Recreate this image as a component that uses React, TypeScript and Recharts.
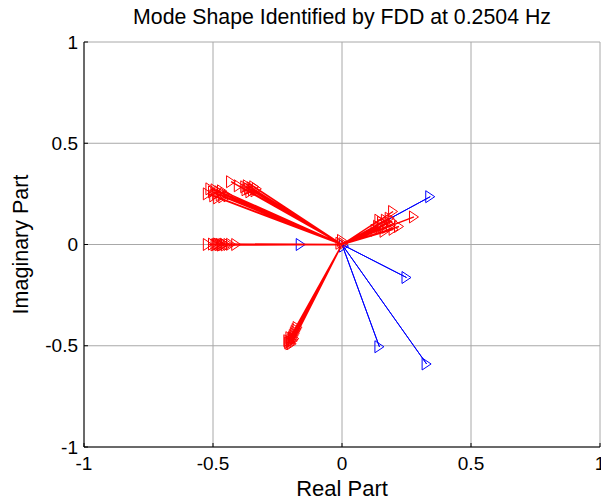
import React from 'react';
import { ScatterChart, Scatter, XAxis, YAxis, CartesianGrid } from 'recharts';

const axisTicks = [-1, -0.5, 0, 0.5, 1];

// Blue mode-shape components [real, imaginary]
const blueTips: [number, number][] = [
  [0.342, 0.236],
  [-0.16, 0.0],
  [0.25, -0.163],
  [0.145, -0.505],
  [0.328, -0.59],
  [0.008, -0.008],
];

// Red components near the real axis (left)
const redRealAxis: [number, number][] = [
  [-0.52, 0.0], [-0.5, 0.002], [-0.49, -0.002], [-0.485, 0.0], [-0.48, 0.003],
  [-0.475, -0.001], [-0.47, 0.001], [-0.465, -0.003], [-0.46, 0.0], [-0.455, 0.002],
  [-0.45, -0.002], [-0.44, 0.0], [-0.43, 0.001], [-0.41, 0.0],
];

// Red components in the upper-left group
const redUpperLeft: [number, number][] = [
  [-0.52, 0.25], [-0.51, 0.275], [-0.5, 0.26], [-0.495, 0.24], [-0.49, 0.27],
  [-0.485, 0.25], [-0.48, 0.23], [-0.475, 0.26], [-0.47, 0.245], [-0.465, 0.265],
  [-0.46, 0.235], [-0.455, 0.25], [-0.44, 0.24], [-0.43, 0.31], [-0.4, 0.29],
  [-0.375, 0.285], [-0.37, 0.27], [-0.365, 0.29], [-0.36, 0.275], [-0.355, 0.26],
  [-0.35, 0.28], [-0.345, 0.27], [-0.34, 0.285], [-0.335, 0.265], [-0.33, 0.275],
];

// Red components in the lower-left group
const redLowerLeft: [number, number][] = [
  [-0.2, -0.49], [-0.198, -0.48], [-0.195, -0.47], [-0.19, -0.46], [-0.187, -0.45],
  [-0.183, -0.44], [-0.18, -0.43], [-0.176, -0.42], [-0.172, -0.41], [-0.205, -0.485],
  [-0.195, -0.49], [-0.2, -0.46], [-0.19, -0.475], [-0.208, -0.475], [-0.185, -0.465],
];

// Red components in the upper-right group
const redUpperRight: [number, number][] = [
  [0.198, 0.163], [0.279, 0.136], [0.221, 0.089], [0.13, 0.07], [0.14, 0.09],
  [0.15, 0.08], [0.155, 0.11], [0.16, 0.095], [0.17, 0.12], [0.175, 0.085],
  [0.18, 0.105], [0.185, 0.13], [0.19, 0.095], [0.195, 0.115], [0.2, 0.075],
  [0.165, 0.065], [0.145, 0.12],
];

// Red components near the origin
const redNearOrigin: [number, number][] = [
  [0.0, 0.02], [-0.006, 0.006], [0.006, 0.004],
];

const redTips = [...redRealAxis, ...redUpperLeft, ...redLowerLeft, ...redUpperRight, ...redNearOrigin];

function toVectors(tips: [number, number][]) {
  const out: { x: number; y: number; tip: boolean }[] = [];
  tips.forEach(([x, y]) => {
    out.push({ x: 0, y: 0, tip: false });
    out.push({ x, y, tip: true });
  });
  return out;
}

const blueData = toVectors(blueTips);
const redData = toVectors(redTips);

const makeShape = (color: string) => (props: any) => {
  const { cx, cy, payload } = props;
  if (!payload || !payload.tip || cx == null || cy == null) return <g />;
  const d = `M${cx - 4.5},${cy - 6} L${cx + 4.5},${cy} L${cx - 4.5},${cy + 6} Z`;
  return <path d={d} fill="none" stroke={color} strokeWidth={1} />;
};

const FONT = '"Liberation Sans", Arial, Helvetica, sans-serif';

export default function App() {
  return (
    <div style={{ position: 'absolute', left: 0, top: 0, width: 601, height: 502, background: '#fff', fontFamily: FONT }}>
      <ScatterChart
        width={601}
        height={502}
        margin={{ top: 42, right: 1, bottom: 0, left: 0 }}
      >
        <CartesianGrid stroke="#a8a8a8" strokeWidth={1} ticks={axisTicks} />
        <XAxis
          dataKey="x"
          type="number"
          domain={[-1, 1]}
          ticks={axisTicks}
          height={55}
          axisLine={{ stroke: '#000' }}
          tickLine={{ stroke: '#000' }}
          tickSize={-4}
          tickMargin={14}
          tick={{ fill: '#000', fontSize: 19, fontFamily: FONT }}
          label={{ value: 'Real Part', position: 'insideBottom', offset: 6, fill: '#000', fontSize: 22, fontFamily: FONT }}
          interval={0}
        />
        <XAxis
          xAxisId="top"
          orientation="top"
          type="number"
          domain={[-1, 1]}
          ticks={axisTicks}
          height={0}
          axisLine={false}
          tickLine={{ stroke: '#000' }}
          tickSize={-4}
          tick={false}
        />
        <YAxis
          dataKey="y"
          type="number"
          domain={[-1, 1]}
          ticks={axisTicks}
          width={84}
          axisLine={{ stroke: '#000' }}
          tickLine={{ stroke: '#000' }}
          tickSize={-4}
          tickMargin={10}
          tick={{ fill: '#000', fontSize: 19, fontFamily: FONT }}
          label={{ value: 'Imaginary Part', angle: -90, position: 'insideLeft', offset: 20, fill: '#000', fontSize: 21.5, fontFamily: FONT, style: { textAnchor: 'middle' } }}
          interval={0}
        />
        <YAxis
          yAxisId="right"
          orientation="right"
          type="number"
          domain={[-1, 1]}
          ticks={axisTicks}
          width={0}
          axisLine={false}
          tickLine={{ stroke: '#000' }}
          tickSize={-4}
          tick={false}
        />
        <Scatter
          data={blueData}
          line={{ stroke: '#0000ff', strokeWidth: 1 }}
          lineType="joint"
          shape={makeShape('#0000ff')}
          isAnimationActive={false}
        />
        <Scatter
          data={redData}
          line={{ stroke: '#ff0000', strokeWidth: 1.4 }}
          lineType="joint"
          shape={makeShape('#ff0000')}
          isAnimationActive={false}
        />
      </ScatterChart>
      <div
        style={{
          position: 'absolute',
          left: 84,
          width: 516,
          top: 5,
          textAlign: 'center',
          fontSize: 21.3,
          lineHeight: '24px',
          color: '#000',
          fontFamily: FONT,
          whiteSpace: 'nowrap',
        }}
      >
        Mode Shape Identified by FDD at 0.2504 Hz
      </div>
    </div>
  );
}
